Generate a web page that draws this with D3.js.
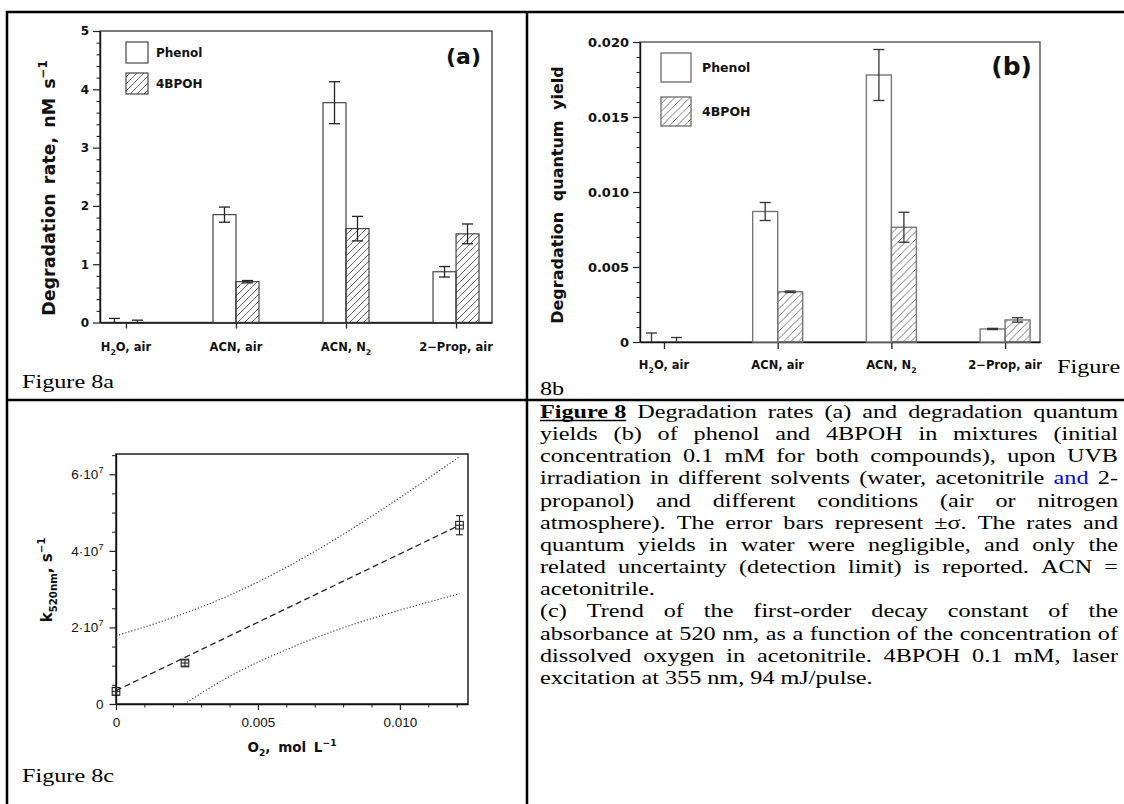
<!DOCTYPE html>
<html>
<head>
<meta charset="utf-8">
<title>Figure 8</title>
<script src="https://cdn.jsdelivr.net/npm/d3@7/dist/d3.min.js"></script>
<style>
  html, body { margin: 0; padding: 0; background: #fff; }
  svg { display: block; }
</style>
</head>
<body>
<svg id="fig" width="1124" height="804"></svg>
<script>
// ---------------- data ----------------
const categories = ["H_{2}O, air", "ACN, air", "ACN, N_{2}", "2\u2212Prop, air"];
const seriesNames = ["Phenol", "4BPOH"];

// (a) degradation rate, nM s^-1
const phenolRate    = [0.00, 1.85, 3.77, 0.87];
const phenolRateErr = [0.07, 0.13, 0.36, 0.09];
const bpohRate      = [0.00, 0.70, 1.61, 1.52];
const bpohRateErr   = [0.04, 0.02, 0.21, 0.17];
const rateTicks     = [0, 1, 2, 3, 4, 5];

// (b) degradation quantum yield
const phenolYield    = [0, 0.0087, 0.0178, 0.00087];
const phenolYieldErr = [0.0006, 0.0006, 0.0017, 0.00004];
const bpohYield      = [0, 0.00335, 0.00765, 0.00147];
const bpohYieldErr   = [0.0003, 0.00005, 0.0010, 0.00015];
const yieldTicks     = [0, 0.005, 0.010, 0.015, 0.020];

// (c) first-order decay constant at 520 nm vs dissolved O2
const o2Conc   = [0, 0.00243, 0.0121];
const k520     = [0.33e7, 1.07e7, 4.67e7];
const k520Err  = [0.10e7, 0.08e7, 0.25e7];
const fitO2    = [0, 0.0121];
const fitK     = [0.35e7, 4.67e7];
const bandUpperO2 = [0, 0.002, 0.004, 0.006, 0.008, 0.010, 0.0121];
const bandUpperK  = [1.78e7, 2.26e7, 2.84e7, 3.57e7, 4.43e7, 5.39e7, 6.46e7];
const bandLowerO2 = [0.0024, 0.004, 0.006, 0.008, 0.010, 0.0121];
const bandLowerK  = [0, 0.72e7, 1.42e7, 1.99e7, 2.45e7, 2.88e7];
const kTicks   = [0, 2e7, 4e7, 6e7];
const o2Ticks  = [0, 0.005, 0.010];

// ---------------- helpers ----------------
const svg = d3.select("#fig");
const SANS = "DejaVu Sans, Verdana, sans-serif";
const ARIAL = "Liberation Sans, Arial, sans-serif";
const SERIF = "Liberation Serif, Times New Roman, serif";

// text with _{sub} and ^{sup} markup
function rich(textSel, str, size) {
  const re = /([_^])\{([^}]*)\}/g;
  let last = 0, m, shift = 0;
  const add = (t, kind) => {
    const ts = textSel.append("tspan").text(t);
    const target = kind === "sub" ? size * 0.32 : kind === "sup" ? -size * 0.45 : 0;
    if (target !== shift) { ts.attr("dy", target - shift); shift = target; }
    if (kind) ts.attr("font-size", size * 0.68);
  };
  while ((m = re.exec(str))) {
    if (m.index > last) add(str.slice(last, m.index), null);
    add(m[2], m[1] === "_" ? "sub" : "sup");
    last = re.lastIndex;
  }
  if (last < str.length) add(str.slice(last), null);
  return textSel;
}

// hatch fills for the 4BPOH bars
const defs = svg.append("defs");
function hatch(id, size, color, width) {
  defs.append("pattern")
    .attr("id", id).attr("patternUnits", "userSpaceOnUse")
    .attr("width", size).attr("height", size)
    .append("path")
    .attr("d", `M-1,1 l2,-2 M0,${size} l${size},-${size} M${size - 1},${size + 1} l2,-2`)
    .attr("stroke", color).attr("stroke-width", width);
}
hatch("hatchA", 7, "#444", 0.8);
hatch("hatchB", 7.5, "#555", 0.8);

// ---------------- table rules ----------------
const rules = svg.append("g").attr("stroke", "#000").attr("stroke-width", 2.5);
rules.append("line").attr("x1", 6).attr("x2", 1124).attr("y1", 12).attr("y2", 12);
rules.append("line").attr("x1", 7).attr("x2", 7).attr("y1", 11).attr("y2", 804);
rules.append("line").attr("x1", 527).attr("x2", 527).attr("y1", 11).attr("y2", 804);
rules.append("line").attr("x1", 6).attr("x2", 1124).attr("y1", 400).attr("y2", 400);

// ---------------- grouped bar panels ----------------
function barPanel(o) {
  const g = svg.append("g");
  const x = d3.scaleLinear().domain(o.xDomain).range([o.left, o.right]);
  const y = d3.scaleLinear().domain(o.yDomain).range([o.bottom, o.top]);

  g.append("rect")
    .attr("x", o.left).attr("y", o.top)
    .attr("width", o.right - o.left).attr("height", o.bottom - o.top)
    .attr("fill", "none").attr("stroke", o.frameColor).attr("stroke-width", 1.4);

  // minor ticks
  g.append("g").attr("transform", `translate(${o.left},0)`)
    .call(d3.axisLeft(y).tickValues(o.minor).tickSize(3.5).tickFormat(""))
    .call(s => { s.select(".domain").remove(); s.selectAll("line").attr("stroke", "#222").attr("stroke-width", 1.1); });

  // major ticks + labels
  g.append("g").attr("transform", `translate(${o.left},0)`)
    .call(d3.axisLeft(y).tickValues(o.ticks).tickSize(7).tickSizeOuter(0).tickPadding(4).tickFormat(o.fmt))
    .attr("font-family", SANS).attr("font-weight", "bold").attr("font-size", o.tickFont)
    .call(s => {
      s.select(".domain").attr("stroke", "#111").attr("stroke-width", 1.4);
      s.selectAll("line").attr("stroke", "#222").attr("stroke-width", 1.2);
      s.selectAll("text").attr("fill", "#111");
    });

  // category axis
  const cats = d3.range(1, categories.length + 1);
  g.append("g").attr("transform", `translate(0,${o.bottom})`)
    .call(d3.axisBottom(x).tickValues(cats).tickSize(o.catTick).tickSizeOuter(0).tickFormat(""))
    .call(s => {
      s.select(".domain").attr("stroke", "#111").attr("stroke-width", 1.4);
      s.selectAll("line").attr("stroke", "#222").attr("stroke-width", 1.3);
    });

  cats.forEach((c, i) => {
    rich(g.append("text")
      .attr("x", x(c)).attr("y", o.catY).attr("text-anchor", "middle")
      .attr("font-family", SANS).attr("font-weight", "bold").attr("font-size", o.catFont)
      .attr("fill", "#111"), categories[i], o.catFont);
  });

  // bars
  const bw = o.barW;
  const series = [
    { v: o.phenol, e: o.phenolErr, x0: c => x(c - bw), x1: c => x(c), fill: "#fff" },
    { v: o.bpoh,   e: o.bpohErr,   x0: c => x(c), x1: c => x(c + bw), fill: `url(#${o.hatch})` }
  ];
  series.forEach(s => {
    s.v.forEach((v, i) => {
      const c = i + 1;
      if (v > 0) {
        g.append("rect")
          .attr("x", s.x0(c)).attr("width", s.x1(c) - s.x0(c))
          .attr("y", y(v)).attr("height", y(0) - y(v))
          .attr("fill", s.fill).attr("stroke", o.barStroke).attr("stroke-width", o.barStrokeW);
      }
    });
  });
  // error bars
  series.forEach(s => {
    s.v.forEach((v, i) => {
      const c = i + 1, cx = (s.x0(c) + s.x1(c)) / 2;
      const lo = y(Math.max(0, v - s.e[i])), hi = y(v + s.e[i]);
      const eg = g.append("g").attr("stroke", o.errColor).attr("stroke-width", 1.3);
      eg.append("line").attr("x1", cx).attr("x2", cx).attr("y1", lo).attr("y2", hi);
      eg.append("line").attr("x1", cx - o.cap).attr("x2", cx + o.cap).attr("y1", hi).attr("y2", hi);
      if (v - s.e[i] > 0)
        eg.append("line").attr("x1", cx - o.cap).attr("x2", cx + o.cap).attr("y1", lo).attr("y2", lo);
    });
  });

  // legend
  const L = o.legend;
  [["#fff", seriesNames[0]], [`url(#${o.hatch})`, seriesNames[1]]].forEach(([fill, name], k) => {
    const yy = L.y + k * L.dy;
    g.append("rect").attr("x", L.x).attr("y", yy).attr("width", L.w).attr("height", L.h)
      .attr("fill", fill).attr("stroke", o.barStroke).attr("stroke-width", o.barStrokeW);
    g.append("text").attr("x", L.x + L.w + L.gap).attr("y", yy + L.h / 2 + L.font * 0.36)
      .attr("font-family", SANS).attr("font-weight", "bold").attr("font-size", L.font)
      .attr("fill", "#111").text(name);
  });

  // panel tag
  g.append("text").attr("x", o.tag.x).attr("y", o.tag.y).attr("text-anchor", "end")
    .attr("font-family", SANS).attr("font-weight", "bold")
    .attr("font-size", o.tag.size).attr("fill", "#111").text(o.tag.text);

  // y title
  rich(g.append("text")
    .attr("transform", `translate(${o.titleX},${o.titleY}) rotate(-90)`)
    .attr("text-anchor", "middle").attr("font-family", SANS).attr("font-weight", "bold")
    .attr("font-size", o.titleFont).attr("word-spacing", o.titleWS).attr("fill", "#111"),
    o.title, o.titleFont);
}

barPanel({
  left: 100, right: 492, top: 31, bottom: 322.5,
  xDomain: [0.764, 4.327], yDomain: [0, 5],
  ticks: rateTicks, minor: d3.range(0, 5.01, 0.2).filter(v => Math.abs(v - Math.round(v)) > 1e-6),
  fmt: d3.format("d"), tickFont: 12,
  frameColor: "#444", catTick: 6, catY: 351, catFont: 11.5,
  phenol: phenolRate, phenolErr: phenolRateErr, bpoh: bpohRate, bpohErr: bpohRateErr,
  barW: 0.209, barStroke: "#333", barStrokeW: 1.1, hatch: "hatchA", errColor: "#222", cap: 5.5,
  legend: { x: 126, y: 42, w: 22, h: 21, dy: 31, gap: 8, font: 12 },
  tag: { x: 481, y: 64, size: 22, text: "(a)" },
  title: "Degradation rate, nM s^{\u22121}", titleX: 55, titleY: 188, titleFont: 17.5, titleWS: 3
});

barPanel({
  left: 640, right: 1040, top: 42, bottom: 342,
  xDomain: [0.789, 4.307], yDomain: [0, 0.02],
  ticks: yieldTicks, minor: d3.range(0, 0.0201, 0.001).filter((v, i) => i % 5 !== 0),
  fmt: d => d === 0 ? "0" : d3.format(".3f")(d), tickFont: 13,
  frameColor: "#555", catTick: 7, catY: 369, catFont: 11.5,
  phenol: phenolYield, phenolErr: phenolYieldErr, bpoh: bpohYield, bpohErr: bpohYieldErr,
  barW: 0.22, barStroke: "#777", barStrokeW: 1.4, hatch: "hatchB", errColor: "#333", cap: 5.5,
  legend: { x: 661, y: 53, w: 30, h: 29, dy: 44, gap: 11, font: 12.5 },
  tag: { x: 1032, y: 75, size: 25, text: "(b)" },
  title: "Degradation quantum yield", titleX: 563, titleY: 195, titleFont: 16, titleWS: 5
});

// ---------------- (c) line panel ----------------
(function () {
  const g = svg.append("g");
  const left = 116, right = 468, top = 454, bottom = 704;
  const x = d3.scaleLinear().domain([0, 0.0124]).range([left, right]);
  const y = d3.scaleLinear().domain([0, 6.53e7]).range([bottom, top]);

  g.append("rect").attr("x", left).attr("y", top).attr("width", right - left).attr("height", bottom - top)
    .attr("fill", "none").attr("stroke", "#111").attr("stroke-width", 1.4);

  // y axis
  g.append("g").attr("transform", `translate(${left},0)`)
    .call(d3.axisLeft(y).tickValues(d3.range(0.5e7, 6.51e7, 0.5e7).filter((v, i) => i % 4 !== 3)).tickSize(4).tickFormat(""))
    .call(s => { s.select(".domain").remove(); s.selectAll("line").attr("stroke", "#222"); });
  g.append("g").attr("transform", `translate(${left},0)`)
    .call(d3.axisLeft(y).tickValues(kTicks).tickSize(6.5).tickSizeOuter(0).tickPadding(6).tickFormat(""))
    .attr("font-family", ARIAL).attr("font-size", 13.5)
    .call(s => {
      s.select(".domain").attr("stroke", "#111").attr("stroke-width", 1.4);
      s.selectAll("line").attr("stroke", "#222").attr("stroke-width", 1.2);
      s.selectAll(".tick text").each(function (d) {
        const t = d3.select(this).attr("fill", "#111");
        rich(t, d === 0 ? "0" : `${d / 1e7}\u00b710^{7}`, 13.5);
      });
    });

  // x axis
  g.append("g").attr("transform", `translate(0,${bottom})`)
    .call(d3.axisBottom(x).tickValues(d3.range(0.001, 0.01201, 0.001).filter((v, i) => (i + 1) % 5 !== 0)).tickSize(3.5).tickFormat(""))
    .call(s => { s.select(".domain").remove(); s.selectAll("line").attr("stroke", "#222"); });
  g.append("g").attr("transform", `translate(0,${bottom})`)
    .call(d3.axisBottom(x).tickValues(o2Ticks).tickSize(6).tickSizeOuter(0).tickPadding(7)
      .tickFormat(d => d === 0 ? "0" : d3.format(".3f")(d)))
    .attr("font-family", ARIAL).attr("font-size", 13.5)
    .call(s => {
      s.select(".domain").attr("stroke", "#111").attr("stroke-width", 1.4);
      s.selectAll("line").attr("stroke", "#222").attr("stroke-width", 1.2);
      s.selectAll("text").attr("fill", "#111");
    });

  // confidence band and fitted line
  const line = d3.line().x(d => x(d[0])).y(d => y(d[1])).curve(d3.curveMonotoneX);
  g.append("path").datum(d3.zip(bandUpperO2, bandUpperK)).attr("d", line)
    .attr("fill", "none").attr("stroke", "#333").attr("stroke-width", 1.1).attr("stroke-dasharray", "1.2,2");
  g.append("path").datum(d3.zip(bandLowerO2, bandLowerK)).attr("d", line)
    .attr("fill", "none").attr("stroke", "#333").attr("stroke-width", 1.1).attr("stroke-dasharray", "1.2,2");
  g.append("path").datum(d3.zip(fitO2, fitK)).attr("d", d3.line().x(d => x(d[0])).y(d => y(d[1])))
    .attr("fill", "none").attr("stroke", "#222").attr("stroke-width", 1.3).attr("stroke-dasharray", "6,3.5");

  // data points with error bars
  o2Conc.forEach((c, i) => {
    const px = x(c), py = y(k520[i]);
    const lo = y(k520[i] - k520Err[i]), hi = y(k520[i] + k520Err[i]);
    const pg = g.append("g").attr("stroke", "#222").attr("stroke-width", 1.1).attr("fill", "none");
    pg.append("line").attr("x1", px).attr("x2", px).attr("y1", lo).attr("y2", hi);
    pg.append("line").attr("x1", px - 3.5).attr("x2", px + 3.5).attr("y1", hi).attr("y2", hi);
    pg.append("line").attr("x1", px - 3.5).attr("x2", px + 3.5).attr("y1", lo).attr("y2", lo);
    pg.append("line").attr("x1", px - 3.8).attr("x2", px + 3.8).attr("y1", py).attr("y2", py);
    pg.append("rect").attr("x", px - 3.8).attr("y", py - 3.8).attr("width", 7.6).attr("height", 7.6);
  });

  // titles
  rich(g.append("text").attr("x", 292).attr("y", 752).attr("text-anchor", "middle")
    .attr("font-family", SANS).attr("font-weight", "bold").attr("font-size", 13.5)
    .attr("word-spacing", 3).attr("fill", "#111"), "O_{2}, mol L^{\u22121}", 13.5);
  rich(g.append("text").attr("transform", `translate(52,580) rotate(-90)`).attr("text-anchor", "middle")
    .attr("font-family", SANS).attr("font-weight", "bold").attr("font-size", 15)
    .attr("fill", "#111"), "k_{520nm}, s^{\u22121}", 15);
})();

// ---------------- figure labels and caption ----------------
const CAP = 24.2, SQ = 0.8;   // document text is set slightly condensed vertically
function serif(xp, yp, str) {
  return svg.append("text").attr("transform", `translate(${xp},${yp}) scale(1,${SQ})`)
    .attr("font-family", SERIF).attr("font-size", CAP).attr("fill", "#000").text(str);
}
serif(22, 388, "Figure 8a");
serif(1057, 373, "Figure");
serif(540, 394.5, "8b");
serif(22, 782, "Figure 8c");

const captionLines = [
  { j: true, w: [{ t: "Figure 8", bold: true, under: true }, "Degradation", "rates", "(a)", "and", "degradation", "quantum"] },
  { j: true, w: ["yields", "(b)", "of", "phenol", "and", "4BPOH", "in", "mixtures", "(initial"] },
  { j: true, w: ["concentration", "0.1", "mM", "for", "both", "compounds),", "upon", "UVB"] },
  { j: true, w: ["irradiation", "in", "different", "solvents", "(water,", "acetonitrile", { t: "and", color: "#0000ff" }, "2-"] },
  { j: true, w: ["propanol)", "and", "different", "conditions", "(air", "or", "nitrogen"] },
  { j: true, w: ["atmosphere).", "The", "error", "bars", "represent", "\u00b1\u03c3.", "The", "rates", "and"] },
  { j: true, w: ["quantum", "yields", "in", "water", "were", "negligible,", "and", "only", "the"] },
  { j: true, w: ["related", "uncertainty", "(detection", "limit)", "is", "reported.", "ACN", "="] },
  { j: false, w: ["acetonitrile."] },
  { j: true, w: ["(c)", "Trend", "of", "the", "first-order", "decay", "constant", "of", "the"] },
  { j: true, w: ["absorbance", "at", "520", "nm,", "as", "a", "function", "of", "the", "concentration", "of"] },
  { j: true, w: ["dissolved", "oxygen", "in", "acetonitrile.", "4BPOH", "0.1", "mM,", "laser"] },
  { j: false, w: ["excitation", "at", "355", "nm,", "94", "mJ/pulse."] }
];
const capLeft = 540, capRight = 1118, capTop = 418, capPitch = 22.15;
const meas = svg.append("text").attr("font-family", SERIF).attr("font-size", CAP).attr("x", -999).attr("y", -999);
const widthOf = (t, bold) => { meas.attr("font-weight", bold ? "bold" : "normal").text(t); return meas.node().getComputedTextLength(); };

captionLines.forEach((line, li) => {
  const yy = capTop + li * capPitch;
  const toks = line.w.map(w => typeof w === "string" ? { t: w } : w);
  const widths = toks.map(tk => widthOf(tk.t, tk.bold));
  const gap = line.j && toks.length > 1
    ? (capRight - capLeft - d3.sum(widths)) / (toks.length - 1)
    : CAP * 0.25;
  let xx = capLeft;
  toks.forEach((tk, k) => {
    serif(xx, yy, tk.t).attr("font-weight", tk.bold ? "bold" : "normal").attr("fill", tk.color || "#000");
    if (tk.under) svg.append("line").attr("x1", xx).attr("x2", xx + widths[k])
      .attr("y1", yy + 2.5).attr("y2", yy + 2.5).attr("stroke", "#000").attr("stroke-width", 1.3);
    xx += widths[k] + gap;
  });
});
meas.remove();
</script>
</body>
</html>
